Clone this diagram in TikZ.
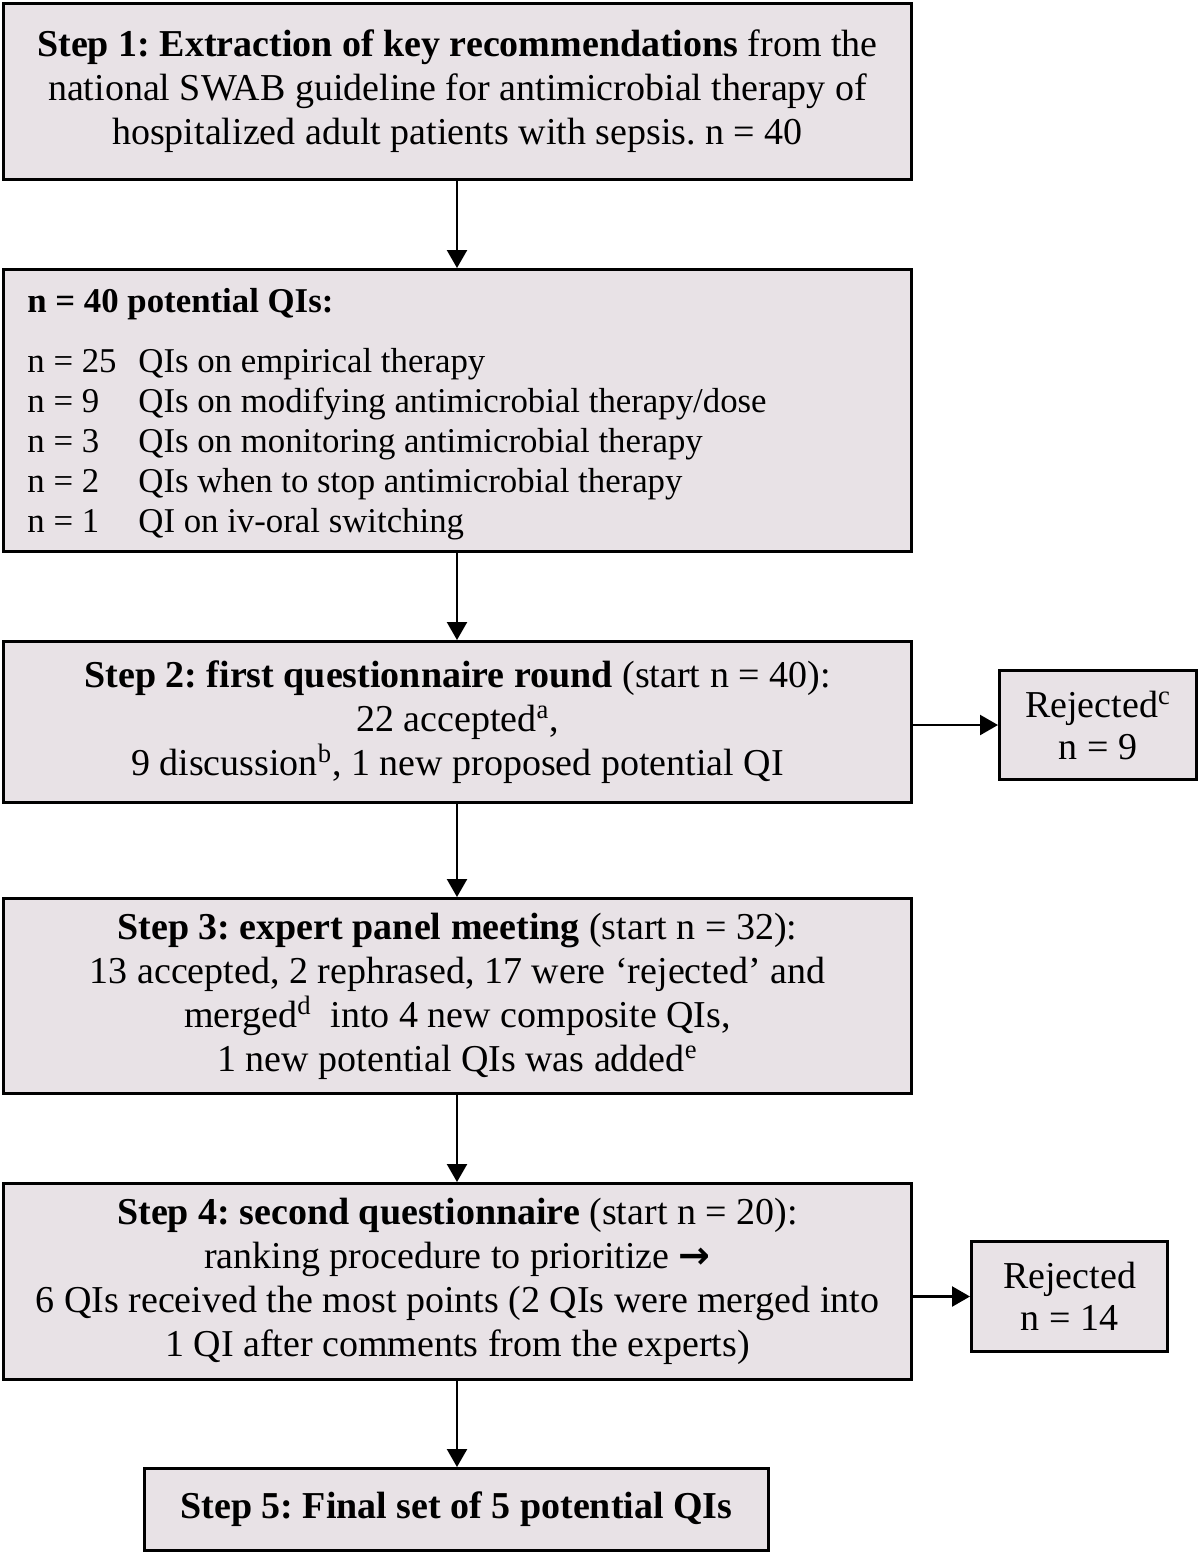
\documentclass[tikz,border=0pt]{standalone}
\usepackage{fontspec}
\setmainfont{Liberation Serif}
\newfontfamily\arrowfont{DejaVu Sans}
\usetikzlibrary{arrows.meta}
\definecolor{boxfill}{HTML}{E8E2E6}
\frenchspacing
\begin{document}
\begin{tikzpicture}[x=0.5pt,y=-0.5pt,
  box/.style={draw=black, line width=1.5pt, fill=boxfill, inner sep=0pt, align=center, font=\fontsize{19}{22}\selectfont\frenchspacing},
  rej/.style={box, font=\fontsize{19}{21}\selectfont},
  plain/.style={inner sep=0pt, font=\fontsize{17.4}{20}\selectfont\frenchspacing},
  conn/.style={line width=1.2pt, -{Triangle[length=9pt,width=10pt]}}]
\useasboundingbox (0,0) rectangle (1200,1554);
\node[box, minimum width=454pt, minimum height=88pt] (s1) at (457.5,91.5)
  {\textbf{Step 1: Extraction of key recommendations} from the\\
   national SWAB guideline for antimicrobial therapy of\\
   hospitalized adult patients with sepsis. n = 40};
\node[box, minimum width=454pt, minimum height=141pt] (s2) at (457.5,410.5) {};
\node[plain, anchor=base west] (s2t) at (27,312)
  {\begin{tabular}[t]{@{}p{55.5pt}@{}l@{}}
   \multicolumn{2}{@{}l@{}}{\textbf{n = 40 potential QIs:}}\\[10pt]
   n = 25 & QIs on empirical therapy\\
   n = 9 & QIs on modifying antimicrobial therapy/dose\\
   n = 3 & QIs on monitoring antimicrobial therapy\\
   n = 2 & QIs when to stop antimicrobial therapy\\
   n = 1 & QI on iv-oral switching
   \end{tabular}};
\node[box, minimum width=454pt, minimum height=80.5pt] (s3) at (457.5,722)
  {\textbf{Step 2: first questionnaire round} (start n = 40):\\
   22 accepted\textsuperscript{a},\\
   9 discussion\textsuperscript{b}, 1 new proposed potential QI};
\node[rej, minimum width=98.5pt, minimum height=54.5pt] (r1) at (1098,725)
  {Rejected\textsuperscript{c}\\ n = 9};
\node[box, minimum width=454pt, minimum height=97.5pt] (s4) at (457.5,996)
  {\textbf{Step 3: expert panel meeting} (start n = 32):\\
   13 accepted, 2 rephrased, 17 were ‘rejected’ and\\
   merged\textsuperscript{d}\ \ into 4 new composite QIs,\\
   1 new potential QIs was added\textsuperscript{e}};
\node[box, minimum width=454pt, minimum height=98pt] (s5) at (457.5,1281.5)
  {\textbf{Step 4: second questionnaire} (start n = 20):\\
   ranking procedure to prioritize {\arrowfont\bfseries →}\\
   6 QIs received the most points (2 QIs were merged into\\
   1 QI after comments from the experts)};
\node[rej, minimum width=98pt, minimum height=55pt] (r2) at (1069.5,1296.5)
  {Rejected\\ n = 14};
\node[box, minimum width=312pt, minimum height=41pt] (s6) at (456.5,1509.5)
  {\textbf{Step 5: Final set of 5 potential QIs}};
\coordinate (a1) at (457,553);
\draw[conn] (s1.south -| a1) -- (s2.north -| a1);
\draw[conn] (s2.south -| a1) -- (s3.north -| a1);
\draw[conn] (s3.south -| a1) -- (s4.north -| a1);
\draw[conn] (s4.south -| a1) -- (s5.north -| a1);
\draw[conn] (s5.south -| a1) -- (s6.north -| a1);
\draw[conn] (s3.east |- r1.west) -- (r1.west);
\draw[conn] (s5.east |- r2.west) -- (r2.west);
\end{tikzpicture}
\end{document}
